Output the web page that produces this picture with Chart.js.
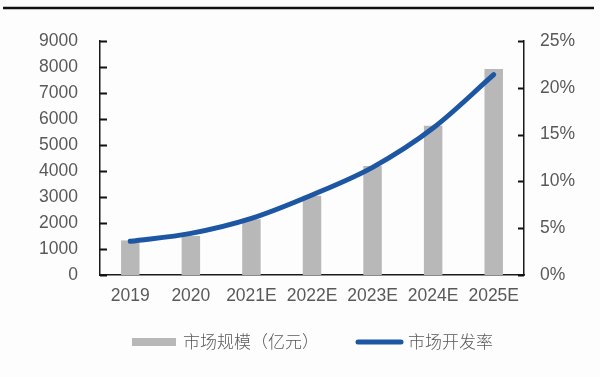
<!DOCTYPE html>
<html>
<head>
<meta charset="utf-8">
<script src="https://cdn.jsdelivr.net/npm/chart.js@4"></script>
<style>
html,body{margin:0;padding:0;background:#fdfdfd;}
#wrap{width:600px;height:377px;position:relative;}
canvas{display:block;}
</style>
</head>
<body>
<div id="wrap"><canvas id="c" width="600" height="377"></canvas></div>
<script>
const categories = ['2019', '2020', '2021E', '2022E', '2023E', '2024E', '2025E'];
const marketSize = [1330, 1500, 2140, 3050, 4190, 5740, 7920];
const devRate = [3.6, 4.45, 6.05, 8.55, 11.5, 15.7, 21.4];
const leftTicks = [0, 1000, 2000, 3000, 4000, 5000, 6000, 7000, 8000, 9000];
const rightTicks = [0, 5, 10, 15, 20, 25];
const seriesNames = ['市场规模（亿元）', '市场开发率'];

const barColor = '#b8b8b8';
const lineColor = '#1d57a3';
const textColor = '#595959';
const axisColor = '#1a1a1a';
const latin = "'Liberation Sans', Arial, sans-serif";
const cjk = "'Noto Sans CJK SC', 'Noto Sans', sans-serif";

const decorPlugin = {
  id: 'decor',
  afterDatasetsDraw(chart) {
    const ctx = chart.ctx;
    const ca = chart.chartArea;
    ctx.save();
    ctx.strokeStyle = '#111111';
    ctx.lineWidth = 2;
    ctx.lineCap = 'butt';
    const y = chart.scales.y, y1 = chart.scales.y1;
    leftTicks.forEach(v => {
      const p = Math.round(y.getPixelForValue(v)) + 0.5;
      ctx.beginPath(); ctx.moveTo(ca.left, p); ctx.lineTo(ca.left + 7, p); ctx.stroke();
    });
    rightTicks.forEach(v => {
      const p = Math.round(y1.getPixelForValue(v)) + 0.5;
      ctx.beginPath(); ctx.moveTo(ca.right - 6, p); ctx.lineTo(ca.right, p); ctx.stroke();
    });
    ctx.restore();
  },
  afterDraw(chart) {
    const ctx = chart.ctx;
    ctx.save();
    // top rule
    ctx.strokeStyle = '#111';
    ctx.lineWidth = 2.5;
    ctx.beginPath();
    ctx.moveTo(3, 8);
    ctx.lineTo(594, 8);
    ctx.stroke();
    // legend
    const ly = 342;
    ctx.fillStyle = chart.data.datasets[1].backgroundColor;
    ctx.fillRect(132, ly - 4, 44, 8);
    ctx.font = "300 17px " + cjk;
    ctx.fillStyle = textColor;
    ctx.textBaseline = 'middle';
    ctx.textAlign = 'left';
    ctx.fillText(chart.data.datasets[1].label, 183, ly);
    ctx.strokeStyle = chart.data.datasets[0].borderColor;
    ctx.lineWidth = 5;
    ctx.lineCap = 'round';
    ctx.beginPath(); ctx.moveTo(358, ly); ctx.lineTo(401, ly); ctx.stroke();
    ctx.fillText(chart.data.datasets[0].label, 408, ly);
    ctx.restore();
  }
};

new Chart(document.getElementById('c'), {
  data: {
    labels: categories,
    datasets: [
      {
        type: 'line',
        label: seriesNames[1],
        data: devRate,
        yAxisID: 'y1',
        borderColor: lineColor,
        borderWidth: 5,
        borderCapStyle: 'round',
        pointRadius: 0,
        cubicInterpolationMode: 'monotone',
        order: 0
      },
      {
        type: 'bar',
        label: seriesNames[0],
        data: marketSize,
        yAxisID: 'y',
        backgroundColor: barColor,
        categoryPercentage: 1,
        barPercentage: 0.305,
        order: 1
      }
    ]
  },
  options: {
    responsive: false,
    animation: false,
    events: [],
    layout: { padding: { top: 41, left: 0, right: 0, bottom: 0 } },
    plugins: { legend: { display: false }, tooltip: { enabled: false } },
    scales: {
      x: {
        grid: { display: false, drawTicks: false },
        border: { display: true, color: axisColor, width: 1.5 },
        ticks: { color: textColor, font: { family: latin, size: 17.5 }, padding: 11, maxRotation: 0 },
        afterFit(s) { s.height = 102; }
      },
      y: {
        position: 'left',
        min: 0, max: 9000,
        afterBuildTicks(s) { s.ticks = leftTicks.map(v => ({ value: v })); },
        grid: { display: false, drawTicks: false },
        border: { display: true, color: axisColor, width: 1.5 },
        ticks: { color: textColor, font: { family: latin, size: 17.5 }, padding: 22, callback: v => String(v) },
        afterFit(s) { s.width = 100; }
      },
      y1: {
        position: 'right',
        min: 0, max: 25,
        afterBuildTicks(s) { s.ticks = rightTicks.map(v => ({ value: v })); },
        grid: { display: false, drawTicks: false },
        border: { display: true, color: axisColor, width: 1.5 },
        ticks: { color: textColor, font: { family: latin, size: 17.5 }, padding: 16, callback: v => v + '%' },
        afterFit(s) { s.width = 76; }
      }
    }
  },
  plugins: [decorPlugin]
});
</script>
</body>
</html>
